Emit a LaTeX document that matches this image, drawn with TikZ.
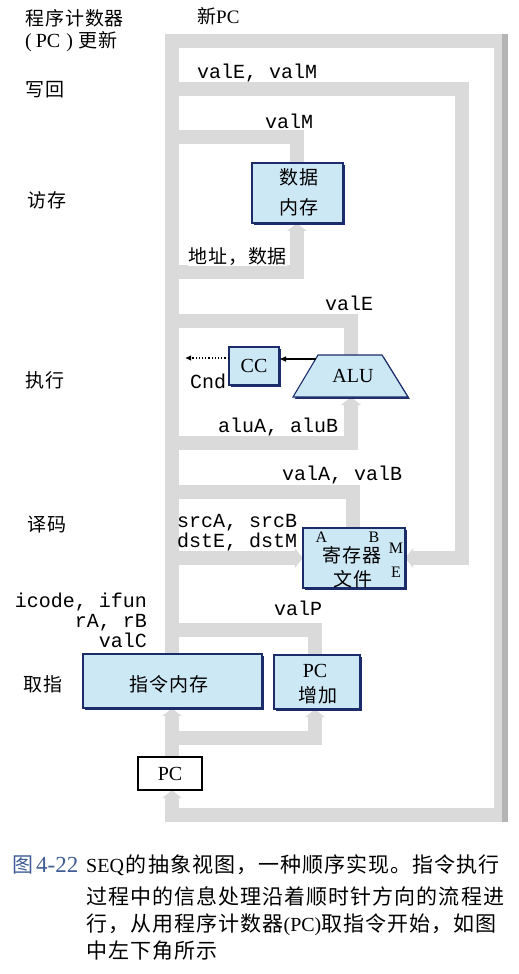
\documentclass[tikz,border=0pt]{standalone}
\usepackage{fontspec}
\setmainfont{Liberation Serif}
\setmonofont{Liberation Mono}
\newfontfamily\zhs[LetterSpace=5]{Noto Sans CJK SC}
\usetikzlibrary{arrows.meta,shadows}
\definecolor{busgray}{HTML}{DADADA}
\definecolor{busdark}{HTML}{B4B4B4}
\definecolor{boxblue}{HTML}{CDE8F5}
\definecolor{navy}{HTML}{1C2C6A}
\definecolor{capblue}{HTML}{3F5C96}
\newcommand\myzh{\zhs\fontsize{19}{19}\selectfont}
\newcommand\mycode{\ttfamily\fontsize{20}{20}\selectfont}
\newcommand\myrm{\rmfamily\fontsize{20}{20}\selectfont}
\newcommand\mycap{\zhs\fontsize{21}{21}\selectfont}
\begin{document}
\begin{tikzpicture}[x=1pt,y=-1pt,
  bus/.style={line width=14pt, draw=busgray, line join=miter},
  busin/.style={bus, -{Triangle[width=20pt,length=8pt,line width=0pt,fill=busgray]}},
  unit/.style={draw=navy, line width=1.1pt, fill=boxblue, inner sep=0pt,
    drop shadow={shadow xshift=1.8pt, shadow yshift=-1.8pt, fill=navy, opacity=1}},
  code/.style={font=\mycode, inner sep=0pt},
  stage/.style={font=\myzh, inner sep=0pt, anchor=west},
  zhtxt/.style={font=\myzh, inner sep=0pt},
  rmtxt/.style={font=\myrm, inner sep=0pt},
  sig/.style={line width=1.2pt, -{Latex[length=7pt,width=6pt]}},
]
\useasboundingbox (0,0) rectangle (519,974);
\fill[white] (0,0) rectangle (519,974);

% ---------- unit placeholders (so buses can refer to them) ----------
\path (297.5,193) node[minimum width=91pt, minimum height=60pt, inner sep=0pt] (dmem) {};
\path (354,558) node[minimum width=102pt, minimum height=60pt, inner sep=0pt] (regf) {};
\path (254,366) node[minimum width=50pt, minimum height=38pt, inner sep=0pt] (cc) {};
\path (172.5,681) node[minimum width=179pt, minimum height=54pt, inner sep=0pt] (imem) {};
\path (317,682) node[minimum width=86pt, minimum height=54pt, inner sep=0pt] (pcinc) {};
\path (170,773.5) node[minimum width=64pt, minimum height=33pt, inner sep=0pt] (pc) {};

\coordinate (L) at (172,0);
\coordinate (P) at (315,0);
\coordinate (V) at (353,0);
\coordinate (M) at (297,0);
\coordinate (aluB) at (351,397);
\coordinate (aluT) at (351,355);

% ---------- gray buses ----------
% PC update loop
\draw[busin] (imem.north -| L) -- (172,41) -- (501,41) -- (501,815) -- (172,815) -- (pc.south -| L);
\draw[busdark, line width=6pt] (505,34) -- (505,822);
% fetch
\draw[busin] (pc.north -| L) -- (imem.south -| L);
\draw[busin] (172,738) -- (315,738) -- (pcinc.south -| P);
\draw[bus] (pcinc.north -| P) -- (315,630) -- (172,630);
% decode
\draw[busin] (172,558) -- (regf.west);
\draw[bus] (regf.north -| V) -- (353,492) -- (172,492);
% write back
\draw[busin] (172,89) -- (462,89) -- (462,558) -- (regf.east);
% execute
\draw[busin] (172,443) -- (351,443) -- (aluB);
\draw[bus] (aluT) -- (351,321) -- (172,321);
% memory
\draw[busin] (172,272) -- (297,272) -- (dmem.south -| M);
\draw[bus] (dmem.north -| M) -- (297,137) -- (172,137);

% ---------- boxes drawn ----------
\node[unit, minimum width=91pt, minimum height=60pt] (dmemb) at (dmem) {};
\node[zhtxt] (dmemt1) at (299,177) {数据};
\node[zhtxt] (dmemt2) at (299,207) {内存};

\node[unit, minimum width=102pt, minimum height=60pt] (regfb) at (regf) {};
\node[zhtxt] (rf1) at (352,555) {寄存器};
\node[zhtxt] (rf2) at (353,579) {文件};
\node[font=\rmfamily\fontsize{16}{16}\selectfont, inner sep=0pt] (rfA) at (321.5,537.5) {A};
\node[font=\rmfamily\fontsize{16}{16}\selectfont, inner sep=0pt] (rfB) at (374,537.5) {B};
\node[font=\rmfamily\fontsize{16}{16}\selectfont, inner sep=0pt] (rfM) at (396,548.5) {M};
\node[font=\rmfamily\fontsize{16}{16}\selectfont, inner sep=0pt] (rfE) at (396,572.5) {E};

\node[unit, minimum width=50pt, minimum height=38pt, font=\myrm] (ccb) at (cc) {CC};
\filldraw[unit] (293,397) -- (318,355) -- (382,355) -- (408,397) -- cycle;
\node[rmtxt] (alu) at (353,376) {ALU};
\coordinate (aluL) at (315.5,359);
\coordinate (cndtip) at (185,358);
\draw[sig] (aluL) -- (cc.east |- aluL);
\draw[line width=1.2pt, dotted, -{Latex[length=6pt,width=5.5pt]}] (cc.west |- cndtip) -- (cndtip);

\node[unit, minimum width=179pt, minimum height=54pt] (imemb) at (imem) {};
\node[zhtxt] (imemt) at (169,684) {指令内存};
\node[unit, minimum width=86pt, minimum height=54pt] (pcincb) at (pcinc) {};
\node[rmtxt] (pcinct1) at (315,671) {PC};
\node[zhtxt] (pcinct2) at (318,695) {增加};

\node[draw=black, line width=1.3pt, fill=white, minimum width=64pt, minimum height=33pt, font=\myrm,
  drop shadow={shadow xshift=1.2pt, shadow yshift=-1.2pt, fill=black, opacity=1}] (pcb) at (pc) {PC};

% ---------- labels ----------
\node[stage] (s1) at (25,18) {程序计数器};
\node[stage] (s2) at (25,42) {{\myrm (\hspace{4pt}PC\hspace{6pt})}\hspace{6pt}更新};
\node[stage] (s3) at (25,90) {写回};
\node[stage] (s4) at (27,200) {访存};
\node[stage] (s5) at (25,380) {执行};
\node[stage] (s6) at (27,525) {译码};
\node[stage] (s7) at (23,684) {取指};
\node[stage] (newpc) at (197,16) {新{\rmfamily\fontsize{19}{19}\selectfont PC}};

\node[code, anchor=base west] (lvem) at (197,78) {valE, valM};
\node[code, anchor=base west] (lvm) at (265,128) {valM};
\node[stage, fill=white] (laddr) at (188,257) {地址，数据};
\node[code, anchor=base west] (lve) at (325,310) {valE};
\node[code, anchor=base west] (lcnd) at (190,388) {Cnd};
\node[code, anchor=base west] (lalu) at (218,432) {aluA, aluB};
\node[code, anchor=base west] (lvab) at (282,480) {valA, valB};
\node[code, anchor=base west] (lsrc) at (177,527) {srcA, srcB};
\node[code, anchor=base west] (ldst) at (177,547) {dstE, dstM};
\node[code, anchor=base east] (licode) at (147,607) {icode, ifun};
\node[code, anchor=base east] (lrab) at (147,627) {rA, rB};
\node[code, anchor=base east] (lvalc) at (147,647) {valC};
\node[code, anchor=base west] (lvalp) at (274,615) {valP};

% ---------- caption ----------
\node[anchor=west, inner sep=0pt, text=capblue] (figno) at (12,865) {{\mycap 图}\hspace{3pt}{\rmfamily\fontsize{23}{23}\selectfont 4-22}};
\node[anchor=west, inner sep=0pt] (cap1) at (86,865) {{\rmfamily\fontsize{20}{20}\selectfont SEQ}\hspace{2pt}{\mycap 的抽象视图，一种顺序实现。指令执行}};
\node[anchor=west, inner sep=0pt, font=\mycap] (cap2) at (86,896) {过程中的信息处理沿着顺时针方向的流程进};
\node[anchor=west, inner sep=0pt, font=\mycap] (cap3) at (86,924.5) {行，从用程序计数器{\rmfamily\fontsize{20}{20}\selectfont (PC)}取指令开始，如图};
\node[anchor=west, inner sep=0pt, font=\mycap] (cap4) at (86,951) {中左下角所示};
\end{tikzpicture}
\end{document}
